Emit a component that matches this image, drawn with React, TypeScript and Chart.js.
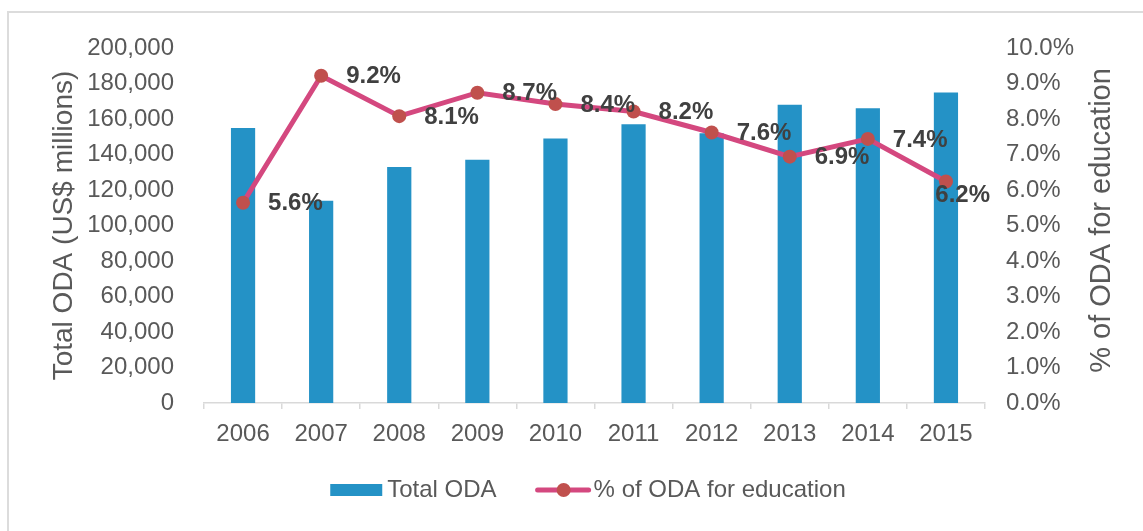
import React, { useEffect, useRef } from 'react';
import { Chart, registerables } from 'chart.js';

Chart.register(...registerables);

const years = ['2006', '2007', '2008', '2009', '2010', '2011', '2012', '2013', '2014', '2015'];
const totalOda = [155000, 114000, 133000, 137000, 149000, 157000, 152000, 168000, 166000, 175000];
const eduShare = [5.64, 9.22, 8.08, 8.74, 8.42, 8.21, 7.62, 6.94, 7.44, 6.24];

const leftTitle = 'Total ODA (US$ millions)';
const rightTitle = '% of ODA for education';
const barLabel = 'Total ODA';
const lineLabel = '% of ODA for education';

const FONT = "'Liberation Sans', Arial, Helvetica, sans-serif";
const BAR_COLOR = '#2492C6';
const LINE_COLOR = '#D4487F';
const MARKER_COLOR = '#C0504D';
const TEXT = '#595959';
const LABEL = '#404040';

const W = 1143;
const H = 531;

export default function App() {
  const ref = useRef<HTMLCanvasElement | null>(null);

  useEffect(() => {
    if (!ref.current) return;

    const dataLabels = {
      id: 'dataLabels',
      afterDatasetsDraw(chart: any) {
        const { ctx, chartArea } = chart;
        const meta = chart.getDatasetMeta(1);
        ctx.save();
        ctx.font = `bold 24px ${FONT}`;
        ctx.fillStyle = LABEL;
        ctx.textAlign = 'left';
        ctx.textBaseline = 'middle';
        meta.data.forEach((pt: any, i: number) => {
          const text = eduShare[i].toFixed(1) + '%';
          const w = ctx.measureText(text).width;
          let x = pt.x + 25;
          let y = pt.y + 1;
          if (x + w > chartArea.right + 5) {
            x = chartArea.right + 5 - w;
            y += 13;
          }
          ctx.fillText(text, x, y);
        });
        ctx.restore();
      },
    };

    const extras = {
      id: 'extras',
      afterDraw(chart: any) {
        const { ctx, chartArea } = chart;
        const ry = chart.scales.y1;
        ctx.save();
        // right axis title, reading bottom-to-top
        ctx.font = `29px ${FONT}`;
        ctx.fillStyle = TEXT;
        ctx.textAlign = 'center';
        ctx.textBaseline = 'middle';
        ctx.translate(ry.right - 29 * 1.2 / 2 - 4, (chartArea.top + chartArea.bottom) / 2 - 5);
        ctx.rotate(-Math.PI / 2);
        ctx.fillText(rightTitle, 0, 0);
        ctx.restore();

        // legend
        ctx.save();
        ctx.font = `24px ${FONT}`;
        ctx.textBaseline = 'middle';
        ctx.textAlign = 'left';
        const t1 = ctx.measureText(barLabel).width;
        const t2 = ctx.measureText(lineLabel).width;
        const total = 52 + 5 + t1 + 39 + 55 + 3 + t2;
        const cy = 490;
        let x = 588 - total / 2;
        ctx.fillStyle = BAR_COLOR;
        ctx.fillRect(x, cy - 6, 52, 12);
        x += 57;
        ctx.fillStyle = TEXT;
        ctx.fillText(barLabel, x, cy);
        x += t1 + 39;
        ctx.strokeStyle = LINE_COLOR;
        ctx.lineWidth = 5;
        ctx.lineCap = 'round';
        ctx.beginPath();
        ctx.moveTo(x + 2, cy);
        ctx.lineTo(x + 53, cy);
        ctx.stroke();
        ctx.fillStyle = MARKER_COLOR;
        ctx.beginPath();
        ctx.arc(x + 28, cy, 7, 0, Math.PI * 2);
        ctx.fill();
        x += 58;
        ctx.fillStyle = TEXT;
        ctx.fillText(lineLabel, x, cy);
        ctx.restore();
      },
    };

    const chart = new Chart(ref.current, {
      type: 'bar',
      data: {
        labels: years,
        datasets: [
          {
            type: 'bar',
            label: barLabel,
            data: totalOda,
            backgroundColor: BAR_COLOR,
            borderWidth: 0,
            barPercentage: 0.31,
            categoryPercentage: 1,
            yAxisID: 'y',
            order: 2,
          },
          {
            type: 'line',
            label: lineLabel,
            data: eduShare,
            borderColor: LINE_COLOR,
            borderWidth: 5,
            pointRadius: 7,
            pointHoverRadius: 7,
            pointBackgroundColor: MARKER_COLOR,
            pointBorderColor: MARKER_COLOR,
            pointBorderWidth: 0,
            tension: 0,
            yAxisID: 'y1',
            order: 1,
          },
        ],
      },
      options: {
        responsive: false,
        animation: false,
        devicePixelRatio: 1,
        layout: { padding: { left: 43, right: 20, top: 48, bottom: 0 } },
        plugins: {
          legend: { display: false },
          tooltip: { enabled: false },
        },
        scales: {
          x: {
            offset: true,
            grid: {
              display: true,
              offset: true,
              drawOnChartArea: false,
              drawTicks: true,
              tickLength: 6,
              color: '#d9d9d9',
              lineWidth: 1.5,
            },
            border: { display: true, color: '#d9d9d9', width: 1.5 },
            ticks: { color: TEXT, font: { family: FONT, size: 24 }, padding: 11 },
            afterFit: (s: any) => { s.height = H - 403; },
          },
          y: {
            position: 'left',
            min: 0,
            max: 200000,
            grid: { display: false, drawTicks: false },
            border: { display: false },
            ticks: {
              stepSize: 20000,
              padding: 30,
              color: TEXT,
              font: { family: FONT, size: 24 },
              callback: (v: any) => Number(v).toLocaleString('en-US'),
            },
            title: {
              display: true,
              text: leftTitle,
              color: TEXT,
              font: { family: FONT, size: 28 },
              padding: { top: 4, bottom: 4 },
            },
            afterFit: (s: any) => { s.width = 204 - 43; },
          },
          y1: {
            position: 'right',
            min: 0,
            max: 10,
            grid: { display: false, drawTicks: false },
            border: { display: false },
            ticks: {
              stepSize: 1,
              padding: 21,
              color: TEXT,
              font: { family: FONT, size: 24 },
              callback: (v: any) => Number(v).toFixed(1) + '%',
            },
            afterFit: (s: any) => { s.width = W - 20 - 985; },
          },
        },
      },
      plugins: [dataLabels, extras],
    });

    return () => chart.destroy();
  }, []);

  return (
    <div style={{ position: 'fixed', left: 0, top: 0, width: W, height: H, background: '#fff', overflow: 'hidden' }}>
      <div
        style={{
          position: 'absolute',
          left: 7,
          top: 11,
          width: 1300,
          height: 700,
          border: '2px solid #dcdcdc',
          boxSizing: 'border-box',
        }}
      />
      <canvas ref={ref} width={W} height={H} style={{ position: 'absolute', left: 0, top: 0, width: W, height: H }} />
    </div>
  );
}
